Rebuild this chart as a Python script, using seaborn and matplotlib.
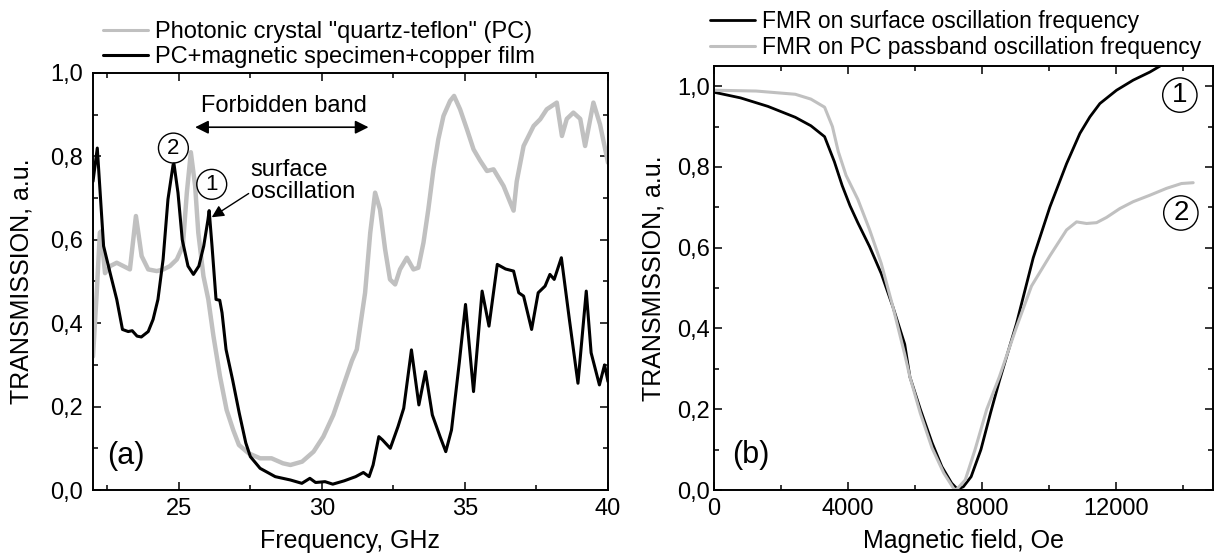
import matplotlib.pyplot as plt
import seaborn as sns
from matplotlib.ticker import MultipleLocator, FuncFormatter

sns.set_style('ticks')
plt.rcParams['font.family'] = ['Liberation Sans', 'DejaVu Sans']
plt.rcParams.update({'text.color': 'black', 'axes.labelcolor': 'black',
                     'xtick.color': 'black', 'ytick.color': 'black',
                     'axes.edgecolor': 'black'})

# (a) transmission spectra, frequency in GHz
pc_freq = [22.0, 22.13, 22.24, 22.28, 22.42, 22.6, 22.83, 23.06, 23.29, 23.5, 23.7, 23.93,
           24.23, 24.46, 24.69, 24.93, 25.14, 25.28, 25.42, 25.57, 25.68, 25.86, 26.03, 26.21,
           26.44, 26.67, 26.9, 27.1, 27.44, 27.84, 28.24, 28.64, 28.9, 29.31, 29.71, 30.05,
           30.4, 30.75, 31.05, 31.22, 31.51, 31.69, 31.86, 32.03, 32.21, 32.38, 32.56, 32.73,
           32.97, 33.2, 33.37, 33.55, 33.72, 33.9, 34.07, 34.25, 34.48, 34.62, 34.83, 35.07,
           35.3, 35.53, 35.77, 36.0, 36.35, 36.58, 36.7, 36.81, 37.05, 37.4, 37.63, 37.86,
           38.21, 38.39, 38.56, 38.79, 39.03, 39.2, 39.49, 39.72, 40.0]
pc_trans = [0.32, 0.473, 0.617, 0.62, 0.52, 0.537, 0.545, 0.537, 0.529, 0.657, 0.561, 0.529,
            0.525, 0.529, 0.537, 0.553, 0.585, 0.713, 0.81, 0.729, 0.617, 0.513, 0.457, 0.369,
            0.272, 0.192, 0.144, 0.108, 0.088, 0.076, 0.076, 0.064, 0.06, 0.068, 0.092, 0.128,
            0.18, 0.25, 0.31, 0.337, 0.473, 0.617, 0.713, 0.673, 0.577, 0.505, 0.493, 0.529,
            0.557, 0.529, 0.533, 0.593, 0.673, 0.769, 0.841, 0.897, 0.933, 0.945, 0.913, 0.865,
            0.817, 0.79, 0.765, 0.769, 0.729, 0.69, 0.67, 0.74, 0.825, 0.873, 0.889, 0.913,
            0.929, 0.849, 0.89, 0.905, 0.89, 0.825, 0.929, 0.877, 0.785]

spec_freq = [22.0, 22.15, 22.37, 22.6, 22.83, 23.03, 23.23, 23.37, 23.54, 23.69, 23.93, 24.1,
             24.27, 24.45, 24.62, 24.8, 24.83, 24.97, 25.12, 25.32, 25.51, 25.7, 25.87, 26.02,
             26.06, 26.16, 26.3, 26.43, 26.51, 26.65, 26.88, 27.11, 27.34, 27.5, 27.84, 28.37,
             28.9, 29.3, 29.58, 29.78, 30.11, 30.38, 30.78, 31.18, 31.45, 31.65, 31.79, 31.99,
             32.12, 32.39, 32.66, 32.86, 33.13, 33.39, 33.62, 33.86, 34.13, 34.33, 34.53, 34.8,
             35.02, 35.3, 35.6, 35.84, 36.13, 36.42, 36.7, 36.88, 37.05, 37.33, 37.56, 37.8,
             37.97, 38.12, 38.37, 38.65, 38.95, 39.24, 39.41, 39.7, 39.88, 40.0]
spec_trans = [0.74, 0.82, 0.585, 0.52, 0.457, 0.385, 0.38, 0.382, 0.369, 0.367, 0.38, 0.409,
              0.457, 0.553, 0.697, 0.78, 0.782, 0.713, 0.6, 0.537, 0.517, 0.537, 0.585, 0.649,
              0.67, 0.585, 0.457, 0.455, 0.425, 0.337, 0.264, 0.185, 0.113, 0.08, 0.052, 0.032,
              0.024, 0.016, 0.028, 0.018, 0.02, 0.014, 0.022, 0.032, 0.042, 0.032, 0.06, 0.128,
              0.12, 0.1, 0.152, 0.196, 0.336, 0.204, 0.284, 0.18, 0.128, 0.092, 0.144, 0.304,
              0.445, 0.236, 0.477, 0.393, 0.541, 0.53, 0.525, 0.473, 0.465, 0.385, 0.473, 0.489,
              0.517, 0.505, 0.557, 0.409, 0.256, 0.477, 0.329, 0.252, 0.3, 0.26]

# (b) FMR curves, field in Oe
surf_field = [0, 793, 1610, 2427, 2894, 3302, 3594, 3827, 4061, 4294, 4644, 4994, 5344, 5695,
              5850, 6161, 6511, 6803, 7095, 7270, 7445, 7678, 7970, 8261, 8520, 9035, 9532,
              10030, 10527, 10925, 11224, 11522, 12020, 12517, 13015, 13363, 13800]
surf_trans = [0.985, 0.971, 0.95, 0.923, 0.902, 0.875, 0.813, 0.754, 0.704, 0.662, 0.603, 0.536,
              0.453, 0.361, 0.28, 0.2, 0.117, 0.058, 0.017, 0.002, 0.008, 0.033, 0.1, 0.192,
              0.27, 0.413, 0.575, 0.701, 0.808, 0.883, 0.924, 0.957, 0.99, 1.015, 1.035, 1.052, 1.07]

pass_field = [0, 1260, 2427, 2894, 3302, 3536, 3711, 3944, 4294, 4644, 4994, 5344, 5695, 5850,
              6161, 6511, 6861, 7153, 7230, 7503, 7795, 8145, 8520, 9035, 9480, 10030, 10527,
              10826, 11124, 11423, 11721, 12119, 12517, 13015, 13512, 13960, 14308]
pass_trans = [0.99, 0.988, 0.98, 0.968, 0.948, 0.9, 0.838, 0.779, 0.72, 0.645, 0.561, 0.453,
              0.336, 0.28, 0.19, 0.104, 0.042, 0.004, 0.0, 0.025, 0.1, 0.2, 0.28, 0.404, 0.505,
              0.58, 0.644, 0.664, 0.66, 0.662, 0.675, 0.697, 0.714, 0.73, 0.747, 0.759, 0.761]

GRAY = '#c0c0c0'
W, H = 1214, 557


def comma(v, pos):
    return f'{v:.1f}'.replace('.', ',')


def style(ax, xpad, ypad):
    ax.tick_params(which='both', direction='in', top=True, right=True, width=1.1, labelsize=17)
    ax.tick_params(which='major', length=6)
    ax.tick_params(which='minor', length=3.5)
    ax.tick_params(axis='x', which='both', pad=xpad)
    ax.tick_params(axis='y', which='both', pad=ypad)
    for s in ax.spines.values():
        s.set_linewidth(1.4)
        s.set_color('black')
    ax.yaxis.set_major_locator(MultipleLocator(0.2))
    ax.yaxis.set_minor_locator(MultipleLocator(0.1))
    ax.yaxis.set_major_formatter(FuncFormatter(comma))


fig = plt.figure(figsize=(W / 100, H / 100), dpi=100)
ax1 = fig.add_axes([93 / W, 1 - 490 / H, 515 / W, 417 / H])
ax2 = fig.add_axes([714 / W, 1 - 490 / H, 499 / W, 424 / H])

# ---- panel (a)
sns.lineplot(x=pc_freq, y=pc_trans, ax=ax1, color=GRAY, lw=3.2,
             label='Photonic crystal "quartz-teflon" (PC)')
sns.lineplot(x=spec_freq, y=spec_trans, ax=ax1, color='black', lw=2.2,
             label='PC+magnetic specimen+copper film')
ax1.set_xlim(22, 40)
ax1.set_ylim(0, 1.0)
style(ax1, 6, 7)
ax1.set_xticks([25, 30, 35, 40])
ax1.xaxis.set_minor_locator(MultipleLocator(2.5))
ax1.set_xlabel('Frequency, GHz', fontsize=18, labelpad=6)
ax1.set_ylabel('TRANSMISSION, a.u.', fontsize=18, labelpad=12)
leg = ax1.legend(loc='center left', bbox_to_anchor=(0.019, 1.068), frameon=False, fontsize=17,
                 handlelength=1.9, handletextpad=0.3, borderpad=0, borderaxespad=0,
                 labelspacing=0.1)
leg.get_lines()[0].set_linewidth(2.2)

ax1.annotate('', xy=(25.57, 0.87), xytext=(31.63, 0.87),
             arrowprops=dict(arrowstyle='<|-|>', color='black', lw=1.2, mutation_scale=20,
                             shrinkA=0, shrinkB=0))
ax1.text(28.68, 0.92, 'Forbidden band', ha='center', va='center', fontsize=17)
ax1.text(27.51, 0.741, 'surface\noscillation', ha='left', va='center', fontsize=17,
         linespacing=1.05)
ax1.annotate('', xy=(26.15, 0.654), xytext=(27.44, 0.711),
             arrowprops=dict(arrowstyle='-|>', color='black', lw=1.0, mutation_scale=18,
                             shrinkA=0, shrinkB=0))
for label, x, y in [('2', 24.81, 0.82), ('1', 26.15, 0.733)]:
    ax1.text(x, y, label, ha='center', va='center', fontsize=16,
             bbox=dict(boxstyle='circle,pad=0.2', fc='none', ec='black', lw=1.0))
ax1.text(23.15, 0.082, '(a)', ha='center', va='center', fontsize=22)

# ---- panel (b)
sns.lineplot(x=surf_field, y=surf_trans, ax=ax2, color='black', lw=2.0,
             label='FMR on surface oscillation frequency')
sns.lineplot(x=pass_field, y=pass_trans, ax=ax2, color=GRAY, lw=2.2,
             label='FMR on PC passband oscillation frequency')
ax2.set_xlim(0, 14900)
ax2.set_ylim(0, 1.05)
style(ax2, 6, 3)
ax2.set_xticks([0, 4000, 8000, 12000])
ax2.xaxis.set_minor_locator(MultipleLocator(2000))
ax2.set_xlabel('Magnetic field, Oe', fontsize=18, labelpad=6)
ax2.set_ylabel('TRANSMISSION, a.u.', fontsize=18, labelpad=8)
ax2.legend(loc='center left', bbox_to_anchor=(-0.008, 1.074), frameon=False, fontsize=16.5,
           handlelength=1.95, handletextpad=0.3, borderpad=0, borderaxespad=0, labelspacing=0.1)
for label, x, y in [('1', 13910, 0.978), ('2', 13940, 0.686)]:
    ax2.text(x, y, label, ha='center', va='center', fontsize=20,
             bbox=dict(boxstyle='circle,pad=0.15', fc='none', ec='black', lw=1.0))
ax2.text(1085, 0.086, '(b)', ha='center', va='center', fontsize=22)

fig.savefig('out.png', dpi=100)
